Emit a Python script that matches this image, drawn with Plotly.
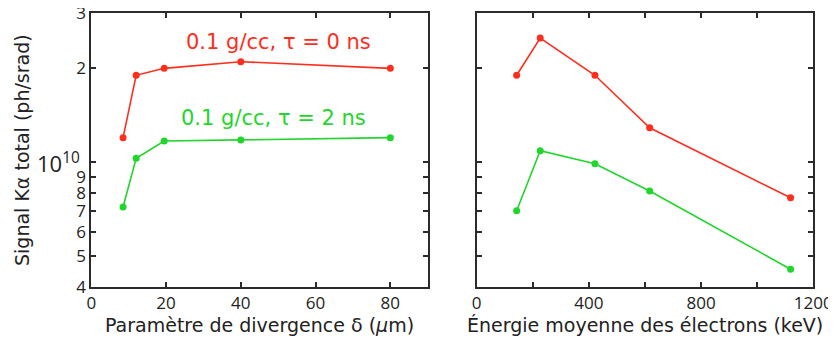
import math
import plotly.graph_objects as go

# Left panel: divergence parameter
delta_um = [8.5, 12, 19.5, 40, 80]
red_left = [1.2e10, 1.90e10, 2.0e10, 2.10e10, 2.0e10]
green_left = [7.2e9, 1.03e10, 1.17e10, 1.18e10, 1.2e10]

# Right panel: mean electron energy
energy_kev = [143, 227, 422, 617, 1119]
red_right = [1.90e10, 2.50e10, 1.90e10, 1.29e10, 7.7e9]
green_right = [7.0e9, 1.09e10, 0.99e10, 8.1e9, 4.55e9]

y_tickvals = [4e9, 5e9, 6e9, 7e9, 8e9, 9e9, 1e10, 2e10, 3e10]
y_ticktext = ["4", "5", "6", "7", "8", "9", "", "2", "3"]
x1_ticks = [0, 20, 40, 60, 80]
x2_ticks = [0, 200, 400, 600, 800, 1000, 1200]
x2_text = ["0", "", "400", "", "800", "", "1200"]

RED = "#ff2e1c"
GREEN = "#1fd62a"
FRAME = "#2b2b2b"
FONT = "DejaVu Sans"
TICKFONT = "Open Sans"

fig = go.Figure()
for xs, ys, col, xa in [(delta_um, red_left, RED, "x"), (delta_um, green_left, GREEN, "x"),
                        (energy_kev, red_right, RED, "x2"), (energy_kev, green_right, GREEN, "x2")]:
    fig.add_trace(go.Scatter(x=xs, y=ys, mode="lines+markers", xaxis=xa,
                             yaxis="y" if xa == "x" else "y2",
                             line=dict(color=col, width=1.6),
                             marker=dict(color=col, size=7), showlegend=False))

axis_common = dict(showline=True, linecolor=FRAME, linewidth=2, mirror="ticks",
                   ticks="inside", ticklen=5, tickwidth=1.5, tickcolor=FRAME,
                   showgrid=False, zeroline=False, automargin=False,
                   ticklabeloverflow="allow",
                   tickfont=dict(family=TICKFONT, size=17, color="#222"))

yrange = [math.log10(4e9) - 1e-4, math.log10(3e10) + 1e-4]
W, H = 828, 334
ydom = [1 - 278.7 / H, 1 - 5.3 / H]
x1dom = [83.3 / W, 419.7 / W]
x2dom = [468.5 / W, 805.3 / W]

fig.update_layout(
    width=W, height=H,
    margin=dict(l=0, r=0, t=0, b=0),
    paper_bgcolor="white", plot_bgcolor="white",
    font=dict(family=FONT, color="#222"),
    xaxis=dict(domain=x1dom, range=[0, 90], tickvals=x1_ticks,
               anchor="y", **axis_common),
    yaxis=dict(domain=ydom, type="log", range=yrange,
               tickvals=y_tickvals, ticktext=y_ticktext, anchor="x",
               **axis_common),
    xaxis2=dict(domain=x2dom, range=[0, 1200], tickvals=x2_ticks,
                ticktext=x2_text, anchor="y2",
                **axis_common),
    yaxis2=dict(domain=ydom, type="log", range=yrange,
                tickvals=y_tickvals, showticklabels=False, anchor="x2",
                **axis_common),
)

title_font = dict(family=FONT, size=19, color="#222")
# axis titles
fig.add_annotation(x=14 / W, y=1 - 142 / H, xref="paper", yref="paper",
                   xanchor="center", yanchor="middle",
                   text="Signal Kα total (ph/srad)", textangle=-90,
                   showarrow=False, font=title_font)
fig.add_annotation(x=251.5 / W, y=1 - 317 / H, xref="paper", yref="paper",
                   xanchor="center", yanchor="middle",
                   text="Paramètre de divergence δ (<i>μ</i>m)",
                   showarrow=False, font=title_font)
fig.add_annotation(x=637 / W, y=1 - 317 / H, xref="paper", yref="paper",
                   xanchor="center", yanchor="middle",
                   text="Énergie moyenne des électrons (keV)",
                   showarrow=False, font=title_font)

# 10^10 tick label of the log axis
fig.add_annotation(x=x1dom[0], xref="paper", xanchor="right", xshift=-9,
                   y=10, yref="y", yshift=0, text="10<sup>10</sup>",
                   showarrow=False, font=dict(family=TICKFONT, size=22, color="#222"))

fig.add_annotation(x=50.0, y=math.log10(2.42e10), xref="x", yref="y",
                   text="0.1 g/cc, τ = 0 ns",
                   showarrow=False, font=dict(family=FONT, size=21, color=RED))
fig.add_annotation(x=48.8, y=math.log10(1.385e10), xref="x", yref="y",
                   text="0.1 g/cc, τ = 2 ns",
                   showarrow=False, font=dict(family=FONT, size=21, color=GREEN))

fig.write_html("out.html")
